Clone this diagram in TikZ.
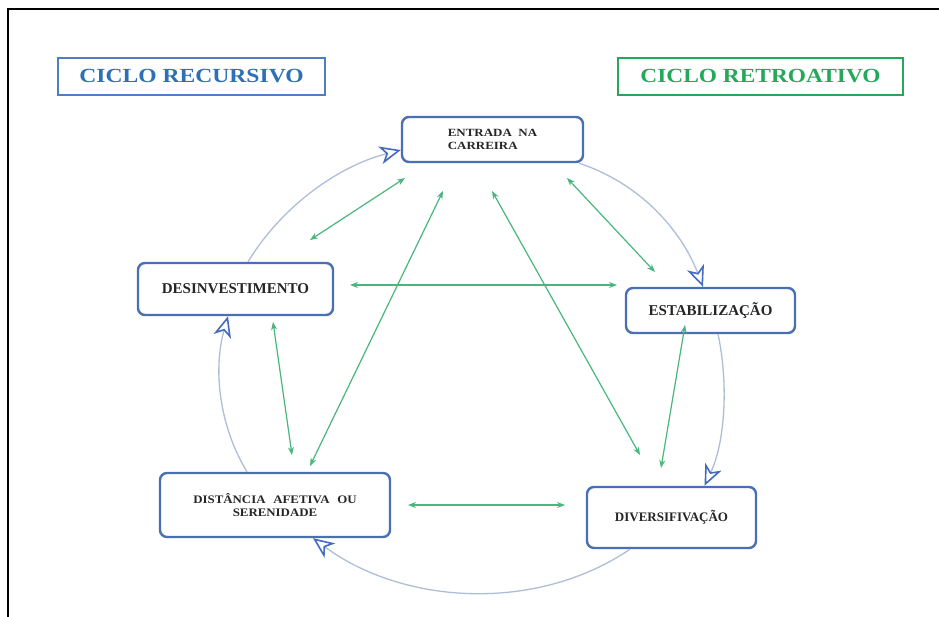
\documentclass[tikz,border=0pt]{standalone}
\usepackage{fontspec}
\setmainfont{Liberation Serif}
\usetikzlibrary{arrows.meta}
\definecolor{boxblue}{RGB}{74,111,181}
\definecolor{arcgray}{RGB}{175,190,215}
\definecolor{tipblue}{RGB}{68,108,190}
\definecolor{grn}{RGB}{72,182,125}
\definecolor{ttlblue}{RGB}{46,112,182}
\definecolor{ttlbluebd}{RGB}{80,125,195}
\definecolor{ttlgreen}{RGB}{38,168,92}
\begin{document}
\begin{tikzpicture}[x=1pt,y=-1pt,
  stage/.style={draw=boxblue, line width=2.4pt, rounded corners=7pt, fill=white,
    font=\bfseries\fontsize{15}{17}\selectfont, text=black!85, inner sep=0pt},
  smalltxt/.style={font=\bfseries\fontsize{11}{12.5}\selectfont},
  title/.style={line width=2pt, inner sep=0pt, font=\bfseries\fontsize{20}{22}\selectfont},
  cyc/.style={draw=arcgray, line width=1.3pt,
    -{Stealth[open, length=21pt, width=18pt, inset=6pt, line width=1.6pt, color=tipblue]}},
  link/.style={draw=grn, line width=1.2pt,
    {Stealth[length=8pt,width=6pt]}-{Stealth[length=8pt,width=6pt]}},
]
\useasboundingbox (0,0) rectangle (939,617);
\fill[white] (0,0) rectangle (939,617);
\draw[line width=1.2pt] (8,617) -- (8,9) -- (939,9);

% titles
\node[title, draw=ttlbluebd, text=ttlblue, minimum width=267pt, minimum height=37pt]
  (recursivo) at (191.5,76.5) {\scalebox{1.18}[1]{CICLO RECURSIVO}};
\node[title, draw=ttlgreen, text=ttlgreen, minimum width=285pt, minimum height=37pt]
  (retro) at (760.5,76.5) {\scalebox{1.17}[1]{CICLO RETROATIVO}};

% stages
\node[stage, smalltxt, minimum width=181pt, minimum height=45pt, align=left]
  (entrada) at (492.5,139.5) {\scalebox{1.18}[1]{ENTRADA\ \ NA}\\\scalebox{1.18}[1]{CARREIRA}};
\node[stage, minimum width=169pt, minimum height=45pt] (estab) at (710.5,310.5) {ESTABILIZAÇÃO};
\node[stage, minimum width=195pt, minimum height=52pt] (desinv) at (235.5,289) {DESINVESTIMENTO};
\node[stage, font=\bfseries\fontsize{11.5}{12.5}\selectfont, minimum width=230pt, minimum height=64pt, align=center]
  (dist) at (275,505) {\scalebox{1.12}[1]{DISTÂNCIA\hspace{0.6em}AFETIVA\hspace{0.6em}OU}\\\scalebox{1.12}[1]{SERENIDADE}};
\node[stage, font=\bfseries\fontsize{13}{15}\selectfont, minimum width=169pt, minimum height=61pt]
  (divers) at (671.5,517.5) {DIVERSIFIVAÇÃO};

% cycle arcs
\draw[cyc] ([xshift=12.5pt]desinv.north) .. controls (279.7,209.5) and (334.7,167.1) .. ([yshift=-10.5pt]entrada.west);
\draw[cyc] ([xshift=86.5pt]entrada.south) .. controls (642,184) and (682,232) .. ([xshift=-7.5pt]estab.north);
\draw[cyc] ([xshift=7.5pt]estab.south) .. controls (728,380) and (726,440) .. ([xshift=33pt]divers.north);
\draw[cyc] ([xshift=-41.5pt]divers.south) .. controls (536.7,612.6) and (404,605.2) .. ([xshift=38pt]dist.south);
\draw[cyc] ([xshift=-28pt]dist.north) .. controls (218.4,424.6) and (213.3,368.1) .. ([xshift=-7.5pt]desinv.south);

% green links
\coordinate (e1) at (405,178);  \coordinate (d1) at (310,240);
\coordinate (e2) at (567,178);  \coordinate (s1) at (655,272);
\coordinate (d2) at (350,285);  \coordinate (s2) at (617,285);
\coordinate (e3) at (443,191);  \coordinate (t1) at (310,466);
\coordinate (e4) at (492,191);  \coordinate (v1) at (640,455);
\coordinate (d3) at (273,322);  \coordinate (t2) at (292,455);
\coordinate (s3) at (685,325);  \coordinate (v2) at (661,468);
\coordinate (t3) at (408,505);  \coordinate (v3) at (565,505);
\draw[link] (e1) -- (d1);
\draw[link] (e2) -- (s1);
\draw[link] (d2) -- (s2);
\draw[link] (e3) -- (t1);
\draw[link] (e4) -- (v1);
\draw[link] (d3) -- (t2);
\draw[link] (s3) -- (v2);
\draw[link] (t3) -- (v3);
\end{tikzpicture}
\end{document}
